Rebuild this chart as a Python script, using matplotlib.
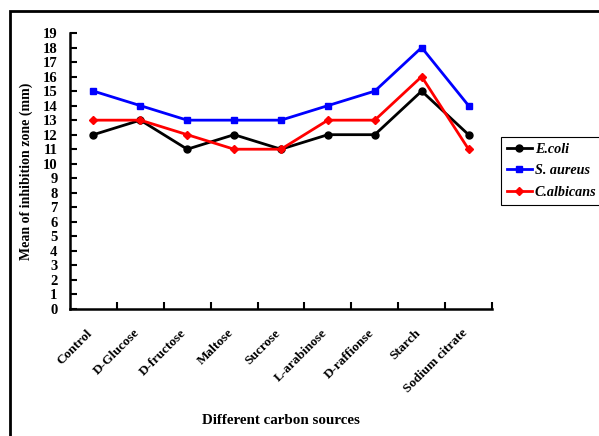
import matplotlib.pyplot as plt
from matplotlib.patches import Rectangle
from matplotlib.transforms import ScaledTranslation

# Inhibition zone per carbon source
fuentes = ["Control", "D-Glucose", "D-fructose", "Maltose", "Sucrose",
           "L-arabinose", "D-raffionse", "Starch", "Sodium citrate"]
ecoli = [12, 13, 11, 12, 11, 12, 12, 15, 12]
saureus = [15, 14, 13, 13, 13, 14, 15, 18, 14]
calbicans = [13, 13, 12, 11, 11, 13, 13, 16, 11]

plt.rcParams["font.family"] = "Liberation Serif"
plt.rcParams["font.weight"] = "bold"

fig = plt.figure(figsize=(5.99, 4.36), dpi=100)
ax = fig.add_axes([70 / 599, 1 - 309 / 436, 422 / 599, 276 / 436])

x = list(range(len(fuentes)))
ax.plot(x, ecoli, color="black", marker="o", ms=5, lw=2, label="E.coli")
ax.plot(x, saureus, color="blue", marker="s", ms=5, lw=2, label="S. aureus")
ax.plot(x, calbicans, color="red", marker="D", ms=4.2, lw=2, label="C.albicans")

ax.set_xlim(-0.5, len(fuentes) - 0.5)
ax.set_ylim(0, 19)
ax.set_yticks(range(0, 20))
ax.set_xticks(x)
ax.set_xticklabels(fuentes, rotation=45, ha="right", rotation_mode="anchor", fontsize=9.6)
ax.set_xticks([i + 0.5 for i in x], minor=True)
ax.tick_params(axis="x", which="major", length=0, pad=13)
ax.tick_params(axis="x", which="minor", direction="in", length=5, width=1.5)
ax.tick_params(axis="y", direction="in", length=5, width=1.5, labelsize=10.5, pad=9)

# nudge the slanted labels so they end under each point
shift = ScaledTranslation(-7 / 100, 0, fig.dpi_scale_trans)
for lab in ax.get_xticklabels():
    lab.set_transform(lab.get_transform() + shift)

for s in ["top", "right"]:
    ax.spines[s].set_visible(False)
for s in ["left", "bottom"]:
    ax.spines[s].set_linewidth(1.8)

ax.set_ylabel("Mean of inhibition zone (mm)", fontsize=10, fontweight="bold")
ax.yaxis.set_label_coords(-0.087, 0.5)
ax.set_xlabel("Different carbon sources", fontsize=10.8, fontweight="bold")
ax.xaxis.set_label_coords(0.5, -0.38)

leg = fig.legend(loc="upper left", bbox_to_anchor=(501 / 599, 1 - 137 / 436),
                 borderaxespad=0, fancybox=False, framealpha=1, edgecolor="black",
                 borderpad=0.4, handlelength=1.8, handletextpad=0.2, labelspacing=0.62,
                 prop={"family": "Liberation Serif", "weight": "bold",
                       "style": "italic", "size": 10.2})
leg.get_frame().set_linewidth(0.8)

# outer frame around the chart
fig.patches.append(Rectangle((10 / 599, -0.2), 1.2, 1 - 11 / 436 + 0.2,
                             transform=fig.transFigure, fill=False,
                             edgecolor="black", lw=2, clip_on=False))

fig.savefig("out.png", dpi=100)
